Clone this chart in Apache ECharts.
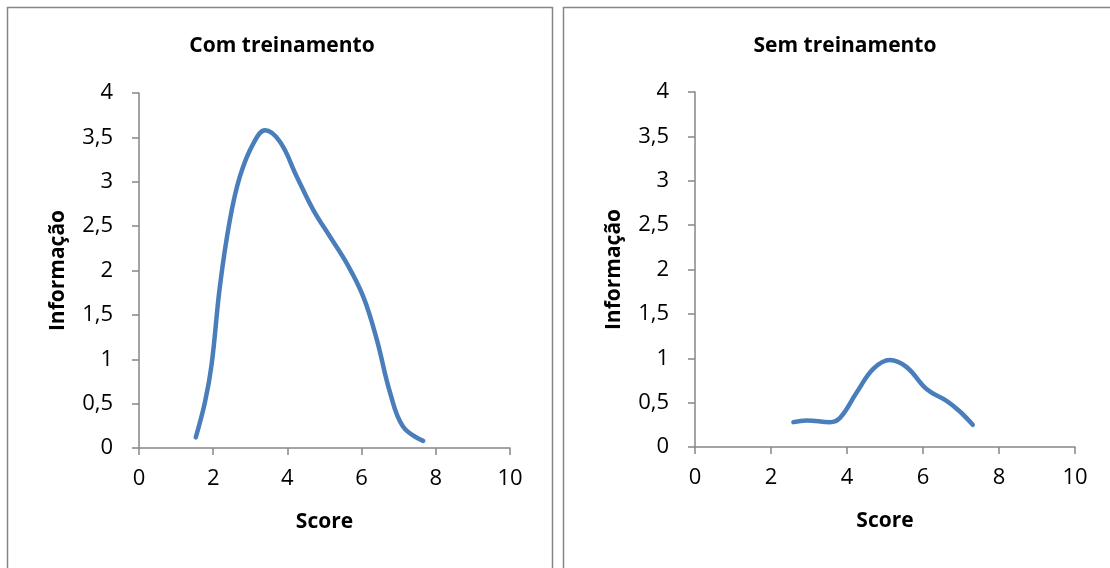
<!DOCTYPE html>
<html>
<head>
<meta charset="utf-8">
<script src="https://cdn.jsdelivr.net/npm/echarts@6/dist/echarts.min.js"></script>
<style>
  html, body { margin: 0; padding: 0; background: #fff; }
  #chart { width: 1110px; height: 568px; }
</style>
</head>
<body>
<div id="chart"></div>
<script>
// Curva de informação do teste: com e sem treinamento
const scoreCom = [1.53, 1.78, 1.96, 2.18, 2.45, 2.72, 3.08, 3.40, 3.80, 4.25, 4.70, 5.15, 5.60, 6.05, 6.41, 6.77, 7.12, 7.66];
const infoCom  = [0.12, 0.52, 0.95, 1.82, 2.57, 3.06, 3.43, 3.58, 3.45, 3.06, 2.68, 2.38, 2.08, 1.70, 1.22, 0.62, 0.24, 0.08];

const scoreSem = [2.59, 2.94, 3.55, 3.82, 4.25, 4.69, 5.13, 5.57, 6.10, 6.62, 6.97, 7.31];
const infoSem  = [0.28, 0.30, 0.28, 0.33, 0.61, 0.88, 0.98, 0.90, 0.65, 0.52, 0.40, 0.25];

const xTicks = [0, 2, 4, 6, 8, 10];
const yTicks = [0, 0.5, 1, 1.5, 2, 2.5, 3, 3.5, 4];

const titles = ['Com treinamento', 'Sem treinamento'];
const xName = 'Score';
const yName = 'Informação';

const FONT = '"Open Sans", "Liberation Sans", sans-serif';
const FS = 22;
const AXIS_COLOR = '#868686';
const LINE_COLOR = '#4a7ebb';

const fmt = v => String(v).replace('.', ',');

function xAxisDef(gridIndex) {
  return {
    type: 'value', gridIndex,
    min: xTicks[0], max: xTicks[xTicks.length - 1], interval: 2,
    name: xName, nameLocation: 'middle', nameGap: 64,
    nameTextStyle: { fontFamily: FONT, fontWeight: 'bold', fontSize: FS - 1, color: '#000' },
    axisLine: { show: true, onZero: false, lineStyle: { color: AXIS_COLOR, width: 1.5 } },
    axisTick: { show: true, inside: false, length: 7, lineStyle: { color: AXIS_COLOR, width: 1.5 } },
    axisLabel: { fontFamily: FONT, fontSize: FS, color: '#000', margin: 20, formatter: fmt },
    splitLine: { show: false }
  };
}
function yAxisDef(gridIndex) {
  return {
    type: 'value', gridIndex,
    min: yTicks[0], max: yTicks[yTicks.length - 1], interval: 0.5,
    name: yName, nameLocation: 'middle', nameGap: 70,
    nameTextStyle: { fontFamily: FONT, fontWeight: 'bold', fontSize: FS - 1, color: '#000' },
    axisLine: { show: true, onZero: false, lineStyle: { color: AXIS_COLOR, width: 1.5 } },
    axisTick: { show: true, length: 7, lineStyle: { color: AXIS_COLOR, width: 1.5 } },
    axisLabel: { fontFamily: FONT, fontSize: FS, color: '#000', margin: 26, formatter: fmt },
    splitLine: { show: false }
  };
}

const chart = echarts.init(document.getElementById('chart'), null, { renderer: 'canvas' });
chart.setOption({
  animation: false,
  backgroundColor: '#fff',
  title: [
    { text: titles[0], left: 277, top: 31, textAlign: 'center',
      textStyle: { fontFamily: FONT, fontWeight: 'bold', fontSize: FS - 1, color: '#000' } },
    { text: titles[1], left: 840, top: 31, textAlign: 'center',
      textStyle: { fontFamily: FONT, fontWeight: 'bold', fontSize: FS - 1, color: '#000' } }
  ],
  graphic: [
    { type: 'rect', shape: { x: 7.5, y: 7.5, width: 545, height: 580 },
      style: { fill: null, stroke: AXIS_COLOR, lineWidth: 1.5 }, z: -1 },
    { type: 'rect', shape: { x: 563.5, y: 7.5, width: 580, height: 580 },
      style: { fill: null, stroke: AXIS_COLOR, lineWidth: 1.5 }, z: -1 }
  ],
  grid: [
    { left: 139, width: 371, top: 93, height: 355 },
    { left: 695, width: 380, top: 92, height: 355 }
  ],
  xAxis: [xAxisDef(0), xAxisDef(1)],
  yAxis: [yAxisDef(0), yAxisDef(1)],
  series: [
    { type: 'line', xAxisIndex: 0, yAxisIndex: 0, smooth: 0.4, showSymbol: false,
      data: scoreCom.map((s, i) => [s, infoCom[i]]),
      lineStyle: { color: LINE_COLOR, width: 4.5, cap: 'round', join: 'round' } },
    { type: 'line', xAxisIndex: 1, yAxisIndex: 1, smooth: 0.4, showSymbol: false,
      data: scoreSem.map((s, i) => [s, infoSem[i]]),
      lineStyle: { color: LINE_COLOR, width: 4.5, cap: 'round', join: 'round' } }
  ]
});
</script>
</body>
</html>
